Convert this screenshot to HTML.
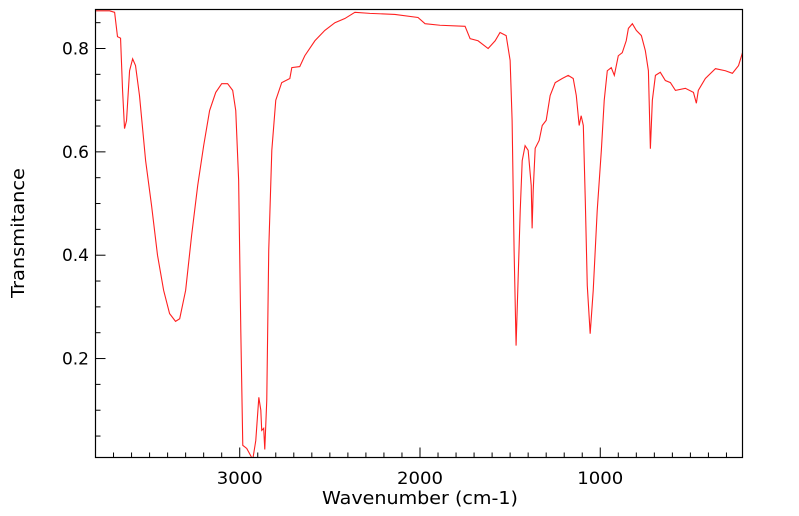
<!DOCTYPE html>
<html><head><meta charset="utf-8"><style>
html,body{margin:0;padding:0;background:#fff;}
svg{display:block;font-family:"DejaVu Sans","Liberation Sans",sans-serif;}
</style></head><body>
<svg id="chart" width="799" height="516" viewBox="0 0 799 516" xmlns="http://www.w3.org/2000/svg">
<g id="ticks"></g>
<g id="labels"></g>
<clipPath id="clip"><rect x="95.5" y="9.5" width="647" height="448"/></clipPath>
<path id="spectrum" fill="none" stroke="#ff2020" stroke-width="1.1" clip-path="url(#clip)"/>
<rect x="95.5" y="9.5" width="647" height="448" fill="none" stroke="#000" stroke-width="1.2"/>
<text x="420" y="504" text-anchor="middle" font-size="18" textLength="196" lengthAdjust="spacingAndGlyphs">Wavenumber (cm-1)</text>
<text transform="translate(24,233) rotate(-90)" text-anchor="middle" font-size="18" textLength="130" lengthAdjust="spacingAndGlyphs">Transmitance</text>
</svg>
<script>
const wavenumbers = [3800,3722,3694,3678,3661,3650,3639,3628,3611,3594,3578,3556,3522,3489,3456,3422,3389,3356,3333,3300,3267,3233,3200,3167,3133,3100,3067,3039,3022,3006,2994,2983,2961,2939,2928,2911,2894,2883,2878,2867,2861,2850,2839,2822,2800,2767,2722,2711,2667,2639,2583,2528,2472,2417,2361,2278,2139,2011,1972,1889,1750,1722,1678,1622,1583,1556,1522,1500,1489,1478,1467,1456,1444,1433,1417,1400,1383,1378,1372,1361,1339,1322,1300,1278,1250,1211,1178,1150,1133,1117,1106,1094,1083,1072,1056,1039,1017,994,978,961,939,922,900,878,856,844,822,800,772,750,733,722,711,694,667,639,611,583,528,483,467,456,417,361,306,267,233,211];
const transmittance = [0.873,0.873,0.870,0.823,0.820,0.720,0.645,0.660,0.757,0.780,0.767,0.709,0.583,0.496,0.400,0.332,0.287,0.272,0.277,0.332,0.438,0.535,0.612,0.680,0.715,0.732,0.732,0.719,0.680,0.545,0.254,0.032,0.026,0.012,0.004,0.041,0.125,0.100,0.061,0.065,0.024,0.119,0.410,0.603,0.700,0.734,0.742,0.763,0.765,0.786,0.815,0.835,0.850,0.858,0.870,0.868,0.866,0.860,0.848,0.845,0.843,0.819,0.815,0.800,0.815,0.831,0.825,0.777,0.661,0.410,0.225,0.350,0.486,0.583,0.612,0.603,0.535,0.452,0.525,0.607,0.622,0.651,0.661,0.709,0.734,0.742,0.748,0.742,0.709,0.651,0.670,0.651,0.505,0.341,0.248,0.332,0.486,0.603,0.700,0.757,0.763,0.748,0.786,0.792,0.815,0.839,0.848,0.835,0.825,0.796,0.757,0.606,0.700,0.748,0.754,0.738,0.734,0.719,0.723,0.715,0.694,0.719,0.742,0.761,0.757,0.752,0.767,0.792];
const xTickLabels = [3000,2000,1000];
const yTickLabels = [0.2,0.4,0.6,0.8];

const X0=95.5,X1=742.5,Y0=9.5,Y1=457.5;
const XMAX=3800,XMIN=211,YMIN=0.0085,YMAX=0.8755;
function xs(w){return X0+(XMAX-w)/(XMAX-XMIN)*(X1-X0);}
function ys(t){return Y1-(t-YMIN)/(YMAX-YMIN)*(Y1-Y0);}
const ns="http://www.w3.org/2000/svg";
let d="";
for(let i=0;i<wavenumbers.length;i++){d+=(i?"L":"M")+xs(wavenumbers[i]).toFixed(2)+" "+ys(transmittance[i]).toFixed(2);}
document.getElementById('spectrum').setAttribute('d',d);
const tg=document.getElementById('ticks'),lg=document.getElementById('labels');
function line(x1,y1,x2,y2,name){const l=document.createElementNS(ns,'line');
l.setAttribute('x1',x1);l.setAttribute('y1',y1);l.setAttribute('x2',x2);l.setAttribute('y2',y2);
l.setAttribute('stroke','#000');l.setAttribute('stroke-width','1');


tg.appendChild(l);}
for(let w=3700;w>=XMIN;w-=100){const x=xs(w);const maj=(w%1000===0);line(x,Y1,x,Y1-(maj?10:5),maj?'x-major-tick':'x-minor-tick');}
for(let k=1;k*0.05<=YMAX;k++){const t=k*0.05;if(t<YMIN)continue;const y=ys(t);const maj=(k%4===0);line(X0,y,X0+(maj?10:5),y,maj?'y-major-tick':'y-minor-tick');}
xTickLabels.forEach(v=>{const t=document.createElementNS(ns,'text');
t.setAttribute('x',xs(v));t.setAttribute('y',484);t.setAttribute('text-anchor','middle');t.setAttribute('font-size','17');
t.setAttribute('textLength','46');t.setAttribute('lengthAdjust','spacingAndGlyphs');


t.textContent=v;lg.appendChild(t);});
yTickLabels.forEach(v=>{const t=document.createElementNS(ns,'text');
t.setAttribute('x',89);t.setAttribute('y',ys(v)+6);t.setAttribute('text-anchor','end');t.setAttribute('font-size','17');


t.textContent=v.toFixed(1);lg.appendChild(t);});
</script>
</body></html>
